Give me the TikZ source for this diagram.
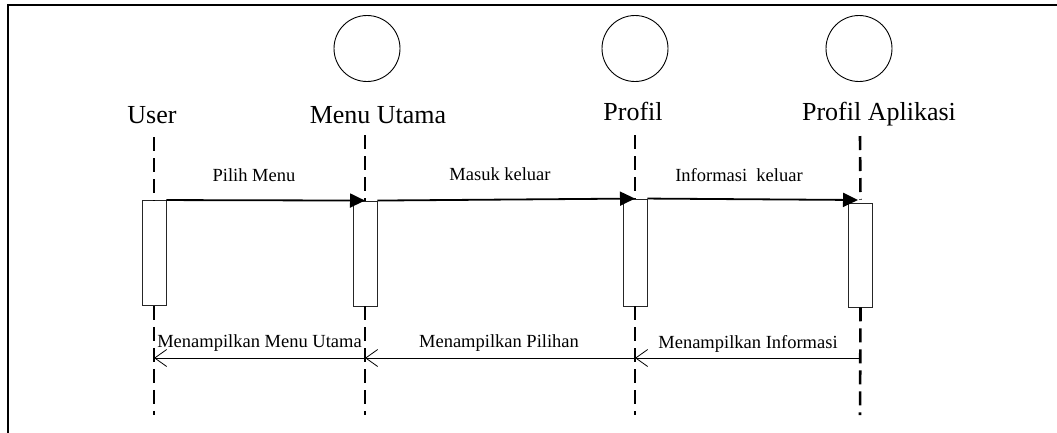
\documentclass[tikz,border=0pt]{standalone}
\usepackage{fontspec}
\setmainfont{Liberation Serif}
\usetikzlibrary{arrows.meta}
\begin{document}
\begin{tikzpicture}[x=1pt,y=-1pt,
  lifelabel/.style={anchor=base,inner sep=0pt,font=\fontsize{26}{30}\selectfont},
  msglabel/.style={anchor=base,inner sep=0pt,font=\fontsize{18.5}{22}\selectfont},
  actor/.style={circle,draw,line width=0.9pt,minimum size=66pt,inner sep=0pt},
  actbox/.style={rectangle,draw=black!85,line width=0.9pt,fill=white,minimum width=24pt,inner sep=0pt},
  lifeline/.style={line width=2.6pt,dash pattern=on 14pt off 7pt},
  callmsg/.style={line width=1.8pt,-{Triangle[length=15pt,width=14pt]}},
  retmsg/.style={line width=0.9pt,-{Straight Barb[length=12pt,width=17pt,line width=0.8pt]}},
  frameline/.style={line width=2pt}
]
\useasboundingbox (0,0) rectangle (1057,432);
% frame
\coordinate (fTR) at (1060,5);
\coordinate (fTL) at (8,5);
\coordinate (fBL) at (8,436);
\draw[frameline] (fTR) -- (fTL) -- (fBL);

% actors (circles)
\node[actor] (cM) at (367,48.5) {};
\node[actor] (cP) at (635,48.5) {};
\node[actor] (cA) at (859,48.5) {};

% lifeline labels
\node[lifelabel] (lU) at (152,123) {User};
\node[lifelabel] (lM) at (378,123) {Menu Utama};
\node[lifelabel] (lP) at (633,120) {Profil};
\node[lifelabel] (lA) at (879,120) {Profil Aplikasi};

% lifeline coordinates
\coordinate (tU) at (154,137);
\coordinate (tM) at (365,135);
\coordinate (tP) at (635,135);
\coordinate (tA) at (860,136);
\coordinate (eU) at (154,415);
\coordinate (eM) at (365,415);
\coordinate (eP) at (635,415);
\coordinate (eA) at (860,415);

% activation boxes
\node[actbox,minimum height=105pt] (bU) at (154,253) {};
\node[actbox,minimum height=105pt] (bM) at (365,253.5) {};
\node[actbox,minimum height=107pt] (bP) at (635,252.5) {};
\node[actbox,minimum height=104pt] (bA) at (860.5,255) {};

% lifelines
\draw[lifeline] (tU) -- (bU.north);
\draw[lifeline] (bU.south) -- (eU);
\draw[lifeline] (tM) -- (bM.north);
\draw[lifeline] (bM.south) -- (eM);
\draw[lifeline] (tP) -- (bP.north);
\draw[lifeline] (bP.south) -- (eP);
\draw[lifeline] (tA) -- ([yshift=3pt]bA.north);
\draw[lifeline] (bA.south) -- (eA);

% call messages
\coordinate (hA) at (858,200);
\draw[callmsg] (bU.north east) -- (bM.north);
\draw[callmsg] (bM.north east) -- (bP.north);
\draw[callmsg] (bP.north east) -- (hA);
\node[msglabel] (m1) at (254,181.5) {Pilih Menu};
\node[msglabel] (m2) at (500,180.7) {Masuk keluar};
\node[msglabel] (m3) at (739,181.7) {Informasi\ \ keluar};

% return messages
\coordinate (rU) at (154,358);
\coordinate (rM) at (365,358);
\coordinate (rP) at (635,358);
\coordinate (rA) at (860,358);
\draw[retmsg] (rM) -- (rU);
\draw[retmsg] (rP) -- (rM);
\draw[retmsg] (rA) -- (rP);
\node[msglabel] (n1) at (259.5,347) {Menampilkan Menu Utama};
\node[msglabel] (n2) at (499,347) {Menampilkan Pilihan};
\node[msglabel] (n3) at (748,348) {Menampilkan Informasi};
\end{tikzpicture}
\end{document}
